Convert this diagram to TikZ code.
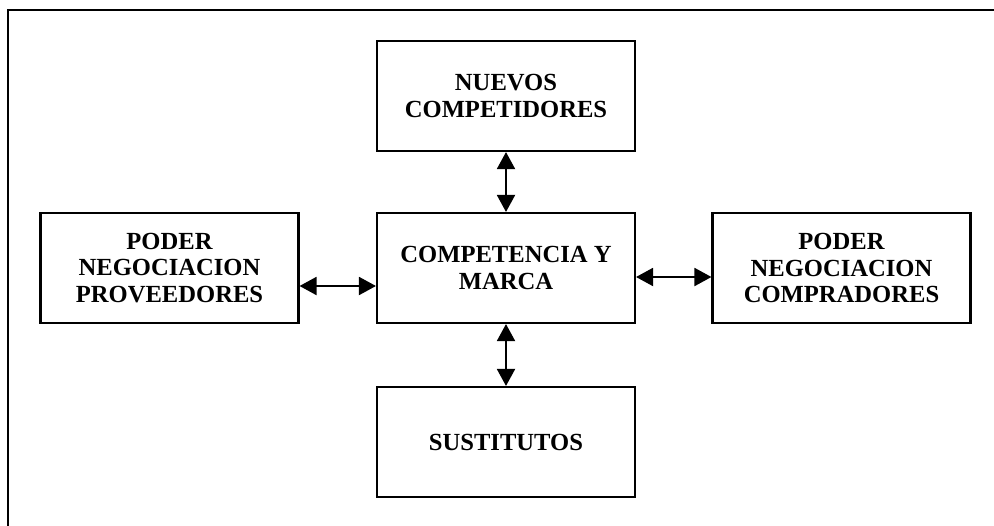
\documentclass[tikz,border=0pt]{standalone}
\usepackage{fontspec}
\setmainfont{Liberation Serif}
\usetikzlibrary{arrows.meta}
\tikzset{
  fuerza/.style={draw, line width=1.2pt, minimum width=5.16cm, minimum height=2.2cm,
    align=center, font=\bfseries\fontsize{14}{15.2}\selectfont, inner sep=0pt},
  flecha/.style={{Triangle[length=0.34cm,width=0.36cm]}-{Triangle[length=0.34cm,width=0.36cm]}, line width=1.1pt}
}
\begin{document}
\begin{tikzpicture}
\useasboundingbox (0,0) rectangle (19.88,-10.5);
% outer frame (cut at right and bottom)
\draw[line width=1.2pt] (0.16,-10.6) -- (0.16,-0.2) -- (20,-0.2);

% boxes
\node[fuerza] (nuevos) at (10.12,-1.92) {NUEVOS\\COMPETIDORES};
\node[fuerza] (centro) at (10.12,-5.36) {COMPETENCIA Y\\MARCA};
\node[fuerza] (sustitutos) at (10.12,-8.84) {SUSTITUTOS};
\node[fuerza] (proveedores) at (3.39,-5.36) {PODER\\NEGOCIACION\\PROVEEDORES};
\node[fuerza] (compradores) at (16.83,-5.36) {PODER\\NEGOCIACION\\COMPRADORES};

% arrows
\draw[flecha] (nuevos) -- (centro);
\draw[flecha] (centro) -- (sustitutos);
\draw[flecha] ([yshift=-0.36cm]proveedores.east) -- ([yshift=-0.36cm]centro.west);
\draw[flecha] ([yshift=-0.18cm]centro.east) -- ([yshift=-0.18cm]compradores.west);
\end{tikzpicture}
\end{document}
